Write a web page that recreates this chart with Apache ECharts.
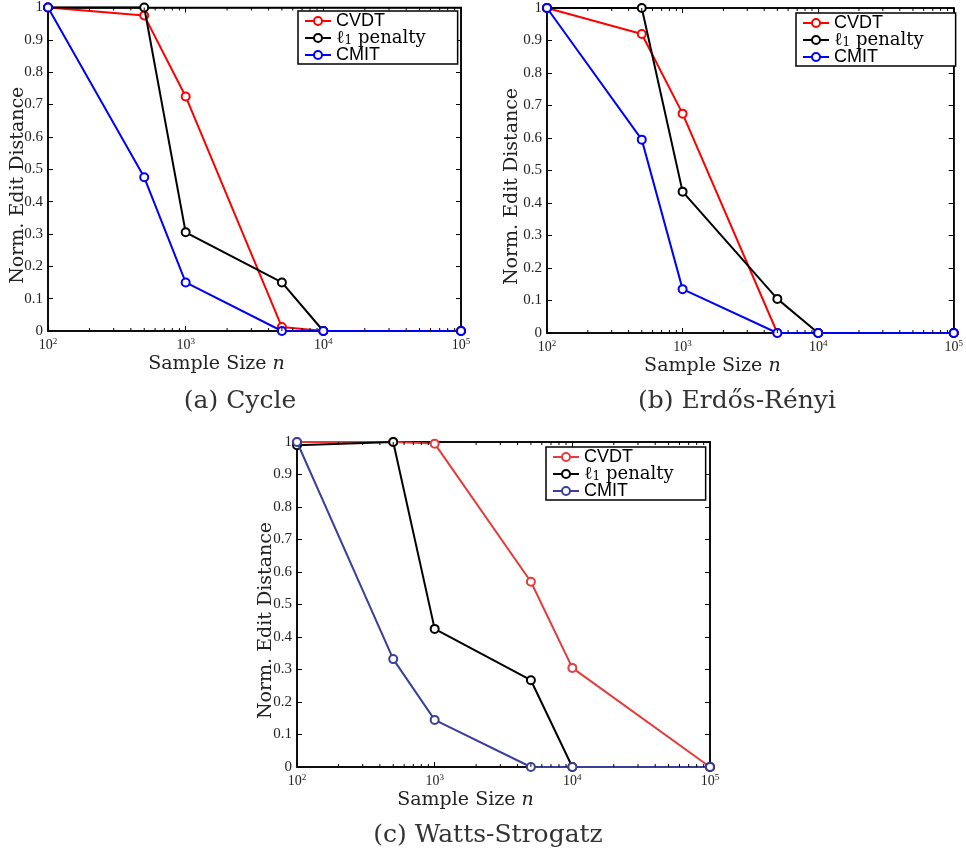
<!DOCTYPE html>
<html>
<head>
<meta charset="utf-8">
<script src="https://cdn.jsdelivr.net/npm/echarts@6/dist/echarts.min.js"></script>
<style>html,body{margin:0;padding:0;background:#fff}#c{width:966px;height:855px}</style>
</head>
<body>
<div id="c"></div>
<script>
// ---- data ----
const sampleSizes = [100, 500, 1000, 5000, 10000, 100000];
const seriesNames = ['CVDT', 'ℓ1 penalty', 'CMIT'];
const panelCaptions = ['(a) Cycle', '(b) Erdős-Rényi', '(c) Watts-Strogatz'];
const yTickLabels = ['0', '0.1', '0.2', '0.3', '0.4', '0.5', '0.6', '0.7', '0.8', '0.9', '1'];
const minorTickValues = [200, 300, 400, 500, 600, 700, 800, 900, 2000, 3000, 4000, 5000, 6000, 7000, 8000, 9000, 20000, 30000, 40000, 50000, 60000, 70000, 80000, 90000];

const cycleCVDT = [1, 0.975, 0.725, 0.012, 0, 0];
const cycleL1 = [1, 1, 0.305, 0.15, 0, 0];
const cycleCMIT = [1, 0.475, 0.15, 0, 0, 0];

const erdosCVDT = [1, 0.92, 0.675, 0, 0, 0];
const erdosL1 = [1, 1, 0.435, 0.105, 0, 0];
const erdosCMIT = [1, 0.595, 0.135, 0, 0, 0];

const wattsCVDT = [1, 1, 0.995, 0.57, 0.305, 0];
const wattsL1 = [0.99, 1, 0.425, 0.267, 0, 0];
const wattsCMIT = [1, 0.332, 0.145, 0, 0, 0];

// ---- layout / style ----
const SERIF = '"Liberation Serif", serif';
const WSERIF = '"DejaVu Serif", serif';
const SANS = '"Liberation Sans", Arial, sans-serif';
const panels = [
  { grid: { left: 48, top: 6, width: 413, height: 325 }, data: [cycleCVDT, cycleL1, cycleCMIT], colors: ['#ff0000', '#000000', '#0000ff'], legend: { left: 298, top: 11 }, caption: { x: 240, y: 401 }, yGap: 20 },
  { grid: { left: 547, top: 8, width: 412, height: 325 }, data: [erdosCVDT, erdosL1, erdosCMIT], colors: ['#ff0000', '#000000', '#0000ff'], legend: { left: 796, top: 13 }, caption: { x: 737, y: 401 }, yGap: 25 },
  { grid: { left: 297, top: 442, width: 413, height: 325 }, data: [wattsCVDT, wattsL1, wattsCMIT], colors: ['#e83a3a', '#000000', '#3b3f99'], legend: { left: 546, top: 447 }, caption: { x: 488, y: 835 }, yGap: 21 }
];

const chart = echarts.init(document.getElementById('c'), null, { renderer: 'canvas' });

const grids = [], xAxes = [], yAxes = [], series = [], legends = [], graphics = [];

function xLabelFmt(v) {
  const e = Math.round(Math.log10(v));
  return '{b|10}{s|' + e + '}';
}

panels.forEach((p, i) => {
  grids.push(Object.assign({ show: true, borderColor: '#000', borderWidth: 1.5, containLabel: false }, p.grid));
  const xi = xAxes.length;
  const commonX = {
    type: 'log', logBase: 10, min: 100, max: 100000, gridIndex: i,
    axisLine: { show: true, onZero: false, lineStyle: { color: '#000', width: 1.5 } },
    axisTick: { show: true, inside: true, length: 5, lineStyle: { color: '#000', width: 1 } },
    splitLine: { show: false }
  };
  xAxes.push(Object.assign({}, commonX, {
    position: 'bottom',
    name: 'Sample Size {i|n}', nameLocation: 'middle', nameGap: 24, nameMoveOverlap: false,
    nameTextStyle: { fontFamily: WSERIF, fontSize: 19, color: '#222', padding: [0, 76, 0, 0], rich: { i: { fontFamily: WSERIF, fontStyle: 'italic', fontSize: 19, color: '#222' } } },
    axisLabel: {
      show: true, margin: 6, formatter: xLabelFmt, color: '#222',
      rich: { b: { fontFamily: SERIF, fontSize: 14, color: '#222' }, s: { fontFamily: SERIF, fontSize: 9, color: '#222', padding: [0, 0, 8, 0] } }
    }
  }));
  xAxes.push(Object.assign({}, commonX, { position: 'top', axisLabel: { show: false } }));
  const yi = yAxes.length;
  const commonY = {
    type: 'value', min: 0, max: 1, interval: 0.1, gridIndex: i,
    axisLine: { show: true, onZero: false, lineStyle: { color: '#000', width: 1.5 } },
    axisTick: { show: true, inside: true, length: 5, lineStyle: { color: '#000', width: 1 } },
    splitLine: { show: false }
  };
  yAxes.push(Object.assign({}, commonY, {
    position: 'left',
    name: 'Norm. Edit Distance', nameLocation: 'middle', nameGap: p.yGap, nameMoveOverlap: false,
    nameTextStyle: { fontFamily: WSERIF, fontSize: 19, color: '#222', padding: [0, 32, 0, 0] },
    axisLabel: { show: true, margin: 5, fontFamily: SERIF, fontSize: 15, color: '#222', formatter: (v) => yTickLabels[Math.round(v * 10)] }
  }));
  yAxes.push(Object.assign({}, commonY, { position: 'right', axisLabel: { show: false } }));

  const names = [];
  p.data.forEach((arr, k) => {
    const nm = seriesNames[k] + ' ' + i;
    names.push(nm);
    series.push({
      name: nm, type: 'line', xAxisIndex: xi, yAxisIndex: yi,
      data: sampleSizes.map((x, j) => [x, arr[j]]),
      symbol: 'emptyCircle', symbolSize: 8, showSymbol: true,
      lineStyle: { color: p.colors[k], width: 2 },
      itemStyle: { color: p.colors[k], borderColor: p.colors[k], borderWidth: 2 },
      emphasis: { disabled: true }, clip: false, animation: false, z: 3 + k
    });
  });
  // minor log ticks (top and bottom edges), drawn through the axis scale
  series.push({
    type: 'custom', xAxisIndex: xi, yAxisIndex: yi, silent: true, clip: false, animation: false, z: 10,
    data: minorTickValues.map(v => [v, 0]),
    renderItem: function (params, api) {
      const b = api.coord([api.value(0), 0]);
      const t = api.coord([api.value(0), 1]);
      return {
        type: 'group', children: [
          { type: 'line', shape: { x1: b[0], y1: b[1], x2: b[0], y2: b[1] - 3 }, style: { stroke: '#000', lineWidth: 1 } },
          { type: 'line', shape: { x1: t[0], y1: t[1], x2: t[0], y2: t[1] + 3 }, style: { stroke: '#000', lineWidth: 1 } }
        ]
      };
    }
  });
  legends.push({
    data: names, orient: 'vertical', left: p.legend.left, top: p.legend.top,
    padding: [1, 32, 0, 6], itemGap: -1, itemWidth: 26, itemHeight: 10,
    backgroundColor: '#fff', borderColor: '#000', borderWidth: 1.5, borderRadius: 0,
    selectedMode: false, z: 20,
    formatter: function (name) {
      if (name.indexOf('ℓ1') === 0) return '{l|ℓ}{sub|1}{l| penalty}';
      return '{n|' + name.split(' ')[0] + '}';
    },
    textStyle: {
      lineHeight: 16,
      rich: {
        n: { fontFamily: SANS, fontSize: 18, color: '#000', lineHeight: 16 },
        l: { fontFamily: WSERIF, fontSize: 18, color: '#000', lineHeight: 16 },
        sub: { fontFamily: WSERIF, fontSize: 12, color: '#000', padding: [5, 0, 0, 0], lineHeight: 14 }
      }
    }
  });
  graphics.push({
    type: 'text', x: p.caption.x, y: p.caption.y, z: 30,
    style: { text: panelCaptions[i], fontFamily: WSERIF, fontSize: 25, fill: '#333', align: 'center', verticalAlign: 'middle' }
  });
});

chart.setOption({
  animation: false,
  backgroundColor: '#fff',
  grid: grids, xAxis: xAxes, yAxis: yAxes, series: series, legend: legends, graphic: graphics
});
</script>
</body>
</html>
